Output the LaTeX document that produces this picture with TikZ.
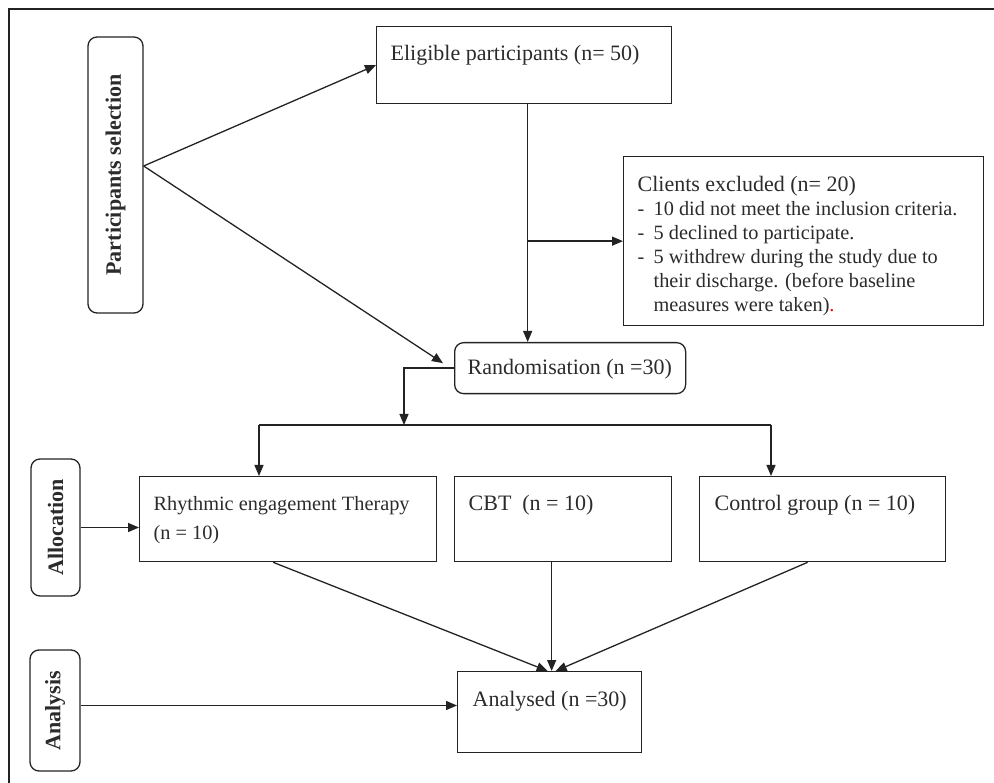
\documentclass[tikz,border=0pt]{standalone}
\usepackage{fontspec}
\usepackage{graphicx}
\setmainfont{Liberation Serif}
\usetikzlibrary{arrows.meta,positioning}

\definecolor{linec}{HTML}{232323}
\definecolor{textc}{HTML}{2B2B2B}

\newcommand{\fsmain}{\fontsize{22}{26}\selectfont}
\newcommand{\fssmall}{\fontsize{20.3}{24}\selectfont}
% box text: width, height, top pad, left pad, text
\newcommand{\inbox}[5]{\parbox[c][#2][t]{#1}{\vspace*{#3}\raggedright\leftskip=#4\relax #5\par}}
\newcommand{\exitem}[1]{\par\hangindent=16pt\hangafter=1\noindent\makebox[16pt][l]{-}#1}

\tikzset{
  box/.style={draw=linec, line width=1.3pt, rectangle, anchor=north west, inner sep=0pt, text=textc, font=\fsmain},
  rbox/.style={box, rounded corners=9pt},
  tag/.style={draw=linec, line width=1.3pt, rectangle, rounded corners=9pt, inner sep=0pt, text=textc, font=\fsmain\bfseries},
  arr/.style={draw=linec, line width=1.3pt, -{Triangle[length=11pt,width=9pt]}},
}

\begin{document}
\begin{tikzpicture}[x=1pt,y=-1pt]
\useasboundingbox (0,0) rectangle (994,783);
\draw[draw=linec, line width=1.3pt] (994,9) -- (9,9) -- (9,783);

    % stage tags
    \node[tag, minimum width=55pt, minimum height=276pt] (PS) at (115.5,175) {\rotatebox{90}{Participants selection}};
    \node[tag, minimum width=49pt, minimum height=137pt] (PA) at (55.5,527.5) {\rotatebox{90}{Allocation}};
    \node[tag, minimum width=50pt, minimum height=121pt] (PN) at (55,710.5) {\rotatebox{90}{Analysis}};

    % flow boxes
    \node[box] (E) at (376,26) {\inbox{295pt}{77pt}{19pt}{14pt}{Eligible participants (n= 50)}};
    \node[box] (X) at (623,156) {\inbox{360pt}{169pt}{20pt}{14pt}{Clients excluded (n= 20)\par\fssmall
        \exitem{10 did not meet the inclusion criteria.}
        \exitem{5 declined to participate.}
        \exitem{5 withdrew during the study due to\newline their discharge. (before baseline\newline measures were taken)\textcolor{red}{.}}}};
    \node[rbox] (R) at (454,342) {\inbox{231pt}{51pt}{17pt}{13pt}{Randomisation (n =30)}};
    \node[box] (GR) at (139,476) {\inbox{297pt}{85pt}{20pt}{14pt}{\fontsize{20.3}{29}\selectfont Rhythmic engagement Therapy\newline (n = 10)}};
    \node[box] (GC) at (454,476) {\inbox{217pt}{85pt}{19pt}{14pt}{CBT\ \ (n = 10)}};
    \node[box] (GK) at (699,476) {\inbox{246pt}{85pt}{19pt}{15pt}{Control group (n = 10)}};
    \node[box] (Y) at (457,671) {\inbox{184pt}{81pt}{20pt}{15pt}{Analysed (n =30)}};

    \coordinate (Sout) at ([yshift=9pt]PS.east);
    \coordinate (T) at ([xshift=3.5pt]E.south);
    \coordinate (B) at (404,425);
    \coordinate (BL) at (259,425);
    \coordinate (BR) at (771,425);

    \draw[arr] (Sout) -- (E.west);
    \draw[arr] (Sout) -- ([xshift=-11pt,yshift=5pt]R.west);
    \draw[arr] (T) -- (T |- R.north);
    \draw[arr] (T |- X.west) -- (X.west);
    \draw[arr] (R.west) -| (B);
    \draw[draw=linec, line width=1.3pt] (BL) -- (BR);
    \draw[arr] (BL) -- (BL |- GR.north);
    \draw[arr] (BR) -- (BR |- GK.north);
    \draw[arr] (PA.east) -- (PA.east -| GR.west);
    \draw[arr] ([yshift=5pt]PN.east) -- ([yshift=5pt]PN.east -| Y.west);
    \draw[arr] ([xshift=-15pt]GR.south) -- ([xshift=-2pt]Y.north);
    \draw[arr] ([xshift=2pt]Y.north |- GC.south) -- ([xshift=2pt]Y.north);
    \draw[arr] ([xshift=-15pt]GK.south) -- ([xshift=6pt]Y.north);

\end{tikzpicture}
\end{document}
